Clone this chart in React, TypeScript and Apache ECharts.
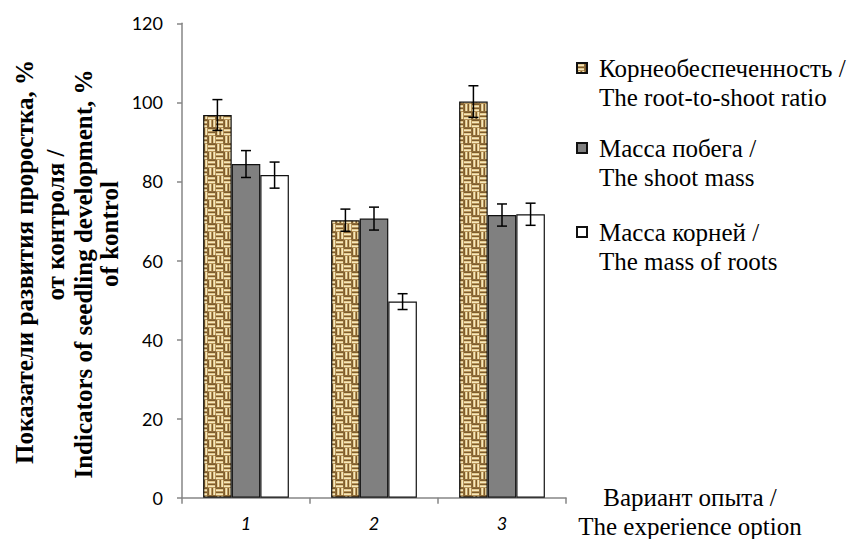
import React, { useEffect, useRef } from "react";
import * as echarts from "echarts";

const categories = ["1", "2", "3"];
const seriesNames = [
  "Корнеобеспеченность /\nThe root-to-shoot ratio",
  "Масса побега /\nThe shoot mass",
  "Масса корней /\nThe mass of roots",
];
const ratioValues = [96.8, 70.2, 100.2];
const ratioErrors = [3.9, 2.8, 4.0];
const shootValues = [84.4, 70.6, 71.5];
const shootErrors = [3.4, 2.9, 2.8];
const rootValues = [81.6, 49.6, 71.7];
const rootErrors = [3.3, 2.0, 2.8];
const yTicks = { min: 0, max: 120, interval: 20 };
const yTitleLines = [
  "Показатели развития проростка, %",
  "от контроля /",
  "Indicators of seedling development, %",
  "of kontrol",
];
const xTitle = "Вариант опыта /\nThe experience option";

const SERIF = "Liberation Serif";
const SANS = "Lato";

function makeTexture(): HTMLCanvasElement {
  const c = document.createElement("canvas");
  c.width = 16;
  c.height = 16;
  const g = c.getContext("2d")!;
  const rowCols = ["#7d5c2e", "#e3c98e", "#f5e8c0", "#b8955a", "#7d5c2e", "#e3c98e", "#f5e8c0", "#b8955a"];
  for (let by = 0; by < 2; by++) {
    for (let bx = 0; bx < 2; bx++) {
      const horiz = (bx + by) % 2 === 0;
      for (let k = 0; k < 8; k++) {
        g.fillStyle = rowCols[k];
        if (horiz) g.fillRect(bx * 8, by * 8 + k, 8, 1);
        else g.fillRect(bx * 8 + k, by * 8, 1, 8);
      }
      g.fillStyle = "#8f6d3a";
      if (horiz) g.fillRect(bx * 8 + 7, by * 8, 1, 8);
      else g.fillRect(bx * 8, by * 8 + 7, 8, 1);
    }
  }
  return c;
}

export default function App() {
  const ref = useRef<HTMLDivElement>(null);
  useEffect(() => {
    document.body.style.margin = "0";
    const chart = echarts.init(ref.current!, undefined, { renderer: "svg" });
    const texture = { image: makeTexture(), repeat: "repeat" };
    const barStyles = [
      { color: texture, borderColor: "#111", borderWidth: 1.2 },
      { color: "#808080", borderColor: "#111", borderWidth: 1.2 },
      { color: "#ffffff", borderColor: "#111", borderWidth: 1.2 },
    ];
    const values = [ratioValues, shootValues, rootValues];
    const errors = [ratioErrors, shootErrors, rootErrors];
    const gapRatio = 0.33;

    const barSeries = values.map((vals, i) => ({
      type: "bar",
      name: seriesNames[i],
      data: vals,
      barGap: "0%",
      barCategoryGap: "33%",
      itemStyle: barStyles[i],
      emphasis: { disabled: true },
    }));

    const errSeries = values.map((vals, i) => ({
      type: "custom",
      name: "err" + i,
      data: vals.map((v, k) => [k, v - errors[i][k], v + errors[i][k]]),
      z: 5,
      renderItem: (params: any, api: any) => {
        const k = api.value(0);
        const lo = api.coord([k, api.value(1)]);
        const hi = api.coord([k, api.value(2)]);
        const band = api.size([1, 0])[0];
        const bw = (band * (1 - gapRatio)) / 3;
        const x = lo[0] + (i - 1) * bw;
        const cap = 5;
        const style = { stroke: "#000", lineWidth: 1.5 };
        return {
          type: "group",
          children: [
            { type: "line", shape: { x1: x, y1: lo[1], x2: x, y2: hi[1] }, style },
            { type: "line", shape: { x1: x - cap, y1: lo[1], x2: x + cap, y2: lo[1] }, style },
            { type: "line", shape: { x1: x - cap, y1: hi[1], x2: x + cap, y2: hi[1] }, style },
          ],
        };
      },
    }));

    const legendTops = [24.5, 104.5, 188.5];
    const legends = seriesNames.map((n, i) => ({
      data: [n],
      left: 576,
      top: legendTops[i],
      orient: "vertical",
      padding: 0,
      itemWidth: 10,
      itemHeight: 10,
      icon: "rect",
      selectedMode: false,
      formatter: (name: string) => "\n" + name,
      textStyle: {
        fontFamily: SERIF,
        fontSize: 25,
        color: "#000",
        lineHeight: 29,
        padding: [0, 0, 0, 7],
      },
    }));

    const titleX = [24, 55, 83, 109];
    const titleY = [262, 225, 274, 234];

    chart.setOption({
      animation: false,
      backgroundColor: "#ffffff",
      grid: { left: 182, top: 23.3, width: 384, height: 474.4 },
      legend: legends,
      xAxis: {
        type: "category",
        data: categories,
        axisLine: { lineStyle: { color: "#868686", width: 1.5 } },
        axisTick: { show: true, length: 6, lineStyle: { color: "#868686", width: 1.5 } },
        axisLabel: {
          margin: 16,
          fontFamily: SANS,
          fontStyle: "italic",
          fontSize: 18,
          color: "#000",
        },
      },
      yAxis: {
        type: "value",
        min: yTicks.min,
        max: yTicks.max,
        interval: yTicks.interval,
        splitLine: { show: false },
        axisLine: { show: true, lineStyle: { color: "#868686", width: 1.5 } },
        axisTick: { show: true, length: 5, lineStyle: { color: "#868686", width: 1.5 } },
        axisLabel: {
          margin: 19,
          fontFamily: SANS,
          fontSize: 18,
          color: "#000",
        },
      },
      graphic: [
        ...yTitleLines.map((t, i) => ({
          type: "text",
          x: titleX[i],
          y: titleY[i],
          rotation: Math.PI / 2,
          style: {
            text: t,
            fontFamily: SERIF,
            fontWeight: "bold",
            fontSize: 25,
            fill: "#000",
            textAlign: "center",
            textVerticalAlign: "middle",
          },
        })),
        {
          type: "text",
          x: 690,
          y: 512,
          style: {
            text: xTitle,
            fontFamily: SERIF,
            fontSize: 25,
            lineHeight: 29,
            fill: "#000",
            textAlign: "center",
            textVerticalAlign: "middle",
          },
        },
      ],
      series: [...barSeries, ...errSeries],
    });
    return () => chart.dispose();
  }, []);
  return <div ref={ref} style={{ width: 852, height: 539 }} />;
}
